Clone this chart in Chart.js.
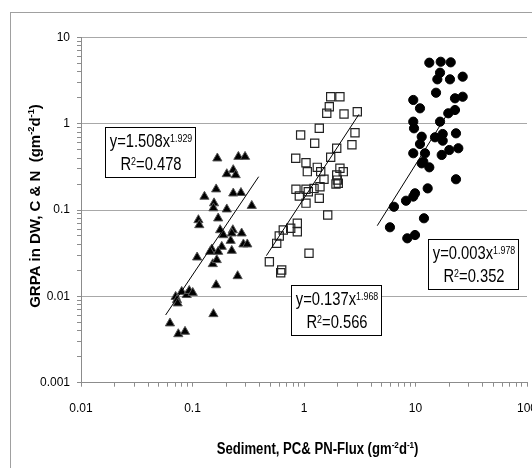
<!DOCTYPE html>
<html><head><meta charset="utf-8">
<script src="https://cdn.jsdelivr.net/npm/chart.js@4.4.0/dist/chart.umd.min.js"></script>
<style>
html,body{margin:0;padding:0;background:#fff;overflow:hidden;width:532px;height:468px;}
#frame{position:absolute;left:10px;top:12px;width:600px;height:600px;border:1px solid #a0a0a0;box-sizing:border-box;}
#c{position:absolute;left:0;top:0;}
</style></head><body>
<div id="frame"></div>
<canvas id="c" width="560" height="468"></canvas>
<script>
// ---- data ----
const triX = [0.167,0.258,0.296,0.203,0.232,0.244,0.128,0.163,0.232,0.272,0.156,0.154,0.203,0.340,0.113,0.115,0.170,0.177,0.189,0.230,0.225,0.276,0.220,0.183,0.149,0.144,0.170,0.286,0.310,0.225,0.110,0.152,0.165,0.254,0.163,0.154,0.0706,0.0726,0.0736,0.080,0.0887,0.0935,0.1005,0.0628,0.0746,0.0857];
const triY = [0.397,0.414,0.414,0.261,0.291,0.254,0.143,0.174,0.156,0.158,0.120,0.105,0.102,0.112,0.0766,0.0670,0.0802,0.0586,0.0513,0.0586,0.0537,0.0537,0.0441,0.0376,0.0351,0.0329,0.0329,0.0401,0.0401,0.0338,0.0283,0.0237,0.0264,0.0172,0.0135,0.00625,0.0099,0.00908,0.00832,0.0113,0.0104,0.0116,0.0110,0.00488,0.00366,0.0039];
const sqX = [1.735,2.10,1.687,1.60,2.285,3.006,1.371,0.933,1.247,2.866,2.69,1.965,1.735,0.843,1.042,1.071,1.316,1.412,1.511,2.10,2.25,1.965,1.99,1.936,2.03,0.847,0.908,1.042,1.093,1.230,1.391,1.371,1.042,1.632,0.871,0.871,0.760,0.652,0.600,0.569,1.109,0.489,0.631,0.618];
const sqY = [2.05,2.05,1.57,1.318,1.294,1.374,0.883,0.739,0.592,0.786,0.57,0.519,0.408,0.397,0.353,0.278,0.312,0.278,0.227,0.304,0.278,0.254,0.222,0.200,0.204,0.174,0.145,0.174,0.163,0.178,0.186,0.137,0.120,0.0875,0.0702,0.0561,0.0614,0.0586,0.050,0.0411,0.0315,0.0252,0.0202,0.0188];
const ciX = [13.30,16.83,20.70,16.60,15.70,20.38,26.5,15.28,9.55,10.97,22.61,26.5,22.61,19.68,9.55,9.70,16.60,11.37,14.96,17.54,17.54,23.07,10.97,9.55,12.17,17.18,20.10,24.21,11.75,11.37,13.30,23.07,12.86,9.90,9.55,8.22,6.41,11.91,5.90,8.44,9.90];
const ciY = [5.08,5.21,5.13,3.89,3.26,3.26,3.50,2.28,1.88,1.505,1.966,2.05,1.439,1.318,1.054,0.883,1.054,0.706,0.695,0.759,0.635,0.773,0.581,0.454,0.454,0.434,0.495,0.519,0.362,0.347,0.312,0.227,0.178,0.156,0.143,0.128,0.109,0.0802,0.0631,0.047,0.0513];
// trend line end points
const triFitX = [0.0574, 0.392], triFitY = [0.00608, 0.243];
const sqFitX = [0.460, 3.11], sqFitY = [0.0296, 1.283];
const ciFitX = [4.54, 19.55], ciFitY = [0.0658, 1.33];
// equation labels
const eqCoef = ['1.508','0.137','0.003'];
const eqExp = ['1.929','1.968','1.978'];
const eqR2 = ['0.478','0.566','0.352'];
const boxAtX = [0.0164, 0.762, 12.85];
const boxAtY = [0.915, 0.0135, 0.0466];
// axis tick labels
const xTickLabels = ['0.01','0.1','1','10','100'];
const yTickLabels = ['0.001','0.01','0.1','1','10'];
const xTitle = [{t:'Sediment, PC& PN-Flux (gm'},{t:'-2',sup:true},{t:'d'},{t:'-1',sup:true},{t:')'}];
const yTitle = [{t:'GRPA in DW, C & N  (gm'},{t:'-2',sup:true},{t:'d'},{t:'-1',sup:true},{t:')'}];

const SANS = '"Liberation Sans", Arial, sans-serif';

const zip = (xs, ys) => xs.map((v, i) => ({x: v, y: ys[i]}));
const isPow10 = v => Math.abs(Math.log10(v) - Math.round(Math.log10(v))) < 1e-6;
function logTicks(min, max) {
  const t = [];
  for (let e = Math.round(Math.log10(min)); e < Math.round(Math.log10(max)); e++)
    for (let m = 1; m < 10; m++) t.push(+(m * Math.pow(10, e)).toPrecision(6));
  t.push(max);
  return t;
}

// draws text segments (with superscripts) centred at cx, cy; sx = horizontal condense factor
function drawRich(ctx, segs, cx, cy, o) {
  const f = s => `${o.weight} ${s}px ${SANS}`;
  let w = 0;
  segs.forEach(s => { ctx.font = f(s.sup ? o.size * o.supScale : o.size); s.w = ctx.measureText(s.t).width * o.sx; w += s.w; });
  let xx = cx - w / 2;
  ctx.textBaseline = 'middle'; ctx.textAlign = 'left'; ctx.fillStyle = '#000';
  segs.forEach(s => {
    ctx.font = f(s.sup ? o.size * o.supScale : o.size);
    ctx.save();
    ctx.translate(xx, s.sup ? cy - o.size * o.raise : cy);
    ctx.scale(o.sx, 1);
    ctx.fillText(s.t, 0, 0);
    ctx.restore();
    xx += s.w;
  });
}

const overlay = {
  id: 'overlay',
  afterDatasetsDraw(chart) {
    const {ctx, scales: {x, y}} = chart;
    ctx.save();
    const ann = {weight: 'normal', size: 18, supScale: 0.6, raise: 0.17, sx: 0.82};
    for (let i = 0; i < eqCoef.length; i++) {
      const bx = Math.round(x.getPixelForValue(boxAtX[i])), by = Math.round(y.getPixelForValue(boxAtY[i]));
      const bw = 90, bh = 50;
      ctx.fillStyle = '#fff'; ctx.fillRect(bx, by, bw, bh);
      ctx.strokeStyle = '#000'; ctx.lineWidth = 1; ctx.strokeRect(bx + 0.5, by + 0.5, bw, bh);
      drawRich(ctx, [{t: 'y=' + eqCoef[i] + 'x'}, {t: eqExp[i], sup: true}], bx + bw / 2 + 1, by + 15, ann);
      drawRich(ctx, [{t: 'R'}, {t: '2', sup: true}, {t: '=' + eqR2[i]}], bx + bw / 2 + 1, by + 38, ann);
    }
    ctx.restore();
  },
  afterDraw(chart) {
    const {ctx, chartArea: ca} = chart;
    ctx.save();
    drawRich(ctx, xTitle, (ca.left + ca.right) / 2 + 13.6, ca.bottom + 67.3, {weight: 'bold', size: 16, supScale: 0.62, raise: 0.3, sx: 0.82});
    ctx.translate(ca.left - 45.4, (ca.top + ca.bottom) / 2 - 4);
    ctx.rotate(-Math.PI / 2);
    drawRich(ctx, yTitle, 0, 0, {weight: 'bold', size: 15, supScale: 0.62, raise: 0.3, sx: 1});
    ctx.restore();
  }
};

const lineDs = (xs, ys) => ({data: zip(xs, ys), showLine: true, borderColor: '#000', borderWidth: 1, pointRadius: 0, order: 0});

new Chart(document.getElementById('c'), {
  type: 'scatter',
  data: {
    datasets: [
      lineDs(triFitX, triFitY),
      lineDs(sqFitX, sqFitY),
      lineDs(ciFitX, ciFitY),
      {data: zip(triX, triY), pointStyle: 'triangle', pointRadius: 5.3, backgroundColor: '#000', borderColor: '#555', borderWidth: 1, order: 1},
      {data: zip(sqX, sqY), pointStyle: 'rect', pointRadius: 5.8, backgroundColor: 'rgba(0,0,0,0)', borderColor: '#222', borderWidth: 1.2, order: 1},
      {data: zip(ciX, ciY), pointStyle: 'circle', pointRadius: 4.6, backgroundColor: '#000', borderColor: '#000', borderWidth: 1, order: 1}
    ]
  },
  options: {
    responsive: false,
    animation: false,
    layout: {padding: {top: 37.3, right: 33, bottom: 0, left: 0}},
    plugins: {legend: {display: false}, tooltip: {enabled: false}},
    scales: {
      x: {
        type: 'logarithmic', min: 0.01, max: 100,
        afterBuildTicks: s => { s.ticks = logTicks(0.01, 100).map(v => ({value: v, major: isPow10(v)})); },
        afterFit: s => { s.height = 85.3; },
        grid: {color: 'rgba(0,0,0,0)', tickColor: '#8c8c8c', tickLength: 4, drawOnChartArea: false},
        border: {color: '#8c8c8c', width: 1},
        ticks: {autoSkip: false, maxRotation: 0, minRotation: 0, padding: 15, color: '#000',
          font: {family: SANS, size: 12},
          callback: v => isPow10(v) ? xTickLabels[Math.round(Math.log10(v)) + 2] : ''}
      },
      y: {
        type: 'logarithmic', min: 0.001, max: 10,
        afterBuildTicks: s => { s.ticks = logTicks(0.001, 10).map(v => ({value: v, major: isPow10(v)})); },
        afterFit: s => { s.width = 81; },
        grid: {color: c => (c.tick && isPow10(c.tick.value)) ? '#a8a8a8' : 'rgba(0,0,0,0)', tickColor: '#8c8c8c', tickLength: 4},
        border: {color: '#8c8c8c', width: 1},
        ticks: {autoSkip: false, padding: 7, color: '#000',
          font: {family: SANS, size: 12},
          callback: v => isPow10(v) ? yTickLabels[Math.round(Math.log10(v)) + 3] : ''}
      }
    }
  },
  plugins: [overlay]
});
</script>
</body></html>
